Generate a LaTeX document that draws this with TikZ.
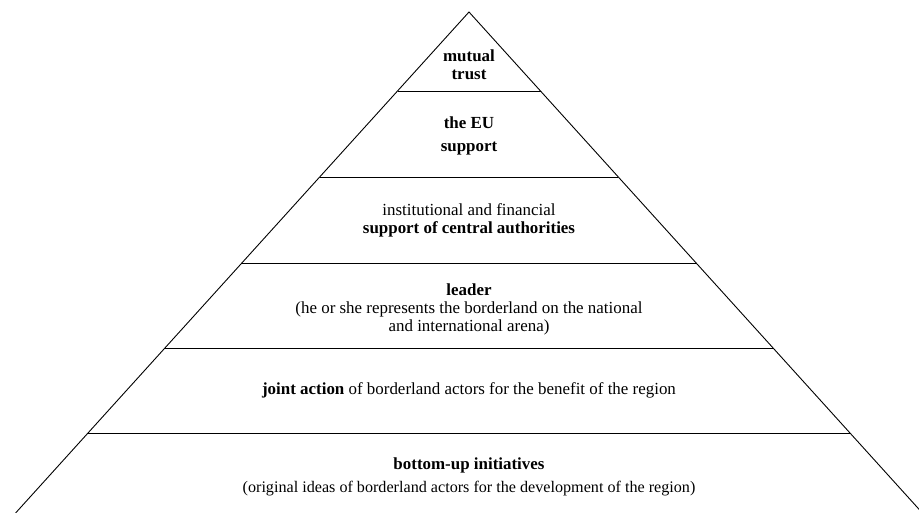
\documentclass[tikz,border=0pt]{standalone}
\usepackage{fontspec}
\setmainfont{Liberation Serif}
\usetikzlibrary{calc}

\tikzset{
  tier/.style={align=center,font=\fontsize{17}{18}\selectfont,inner sep=0pt},
  edge/.style={black,line width=0.9bp},
}

\begin{document}
\begin{tikzpicture}[x=1bp,y=-1bp]
\useasboundingbox (0,0) rectangle (919,513);
%%
\coordinate (apex) at (469,12);
\coordinate (base_l) at (15.6,513);
\coordinate (base_r) at (922.4,513);
\draw [edge] (base_l) -- (apex) -- (base_r);
% level lines
\foreach \y in {91,177,263,348,433}
  \draw [edge] ($(apex)!{(\y-12)/501}!(base_l)$) -- ($(apex)!{(\y-12)/501}!(base_r)$);
%
\node (tier_5) at (469,65) [tier] {\textbf{mutual}\\\textbf{trust}};
  \node (tier_4) at (469,135.5) [tier] {\textbf{the EU}\\[5bp]\textbf{support}};
  \node (tier_3) at (469,220) [tier] {institutional and financial\\\textbf{support of central authorities}};
  \node (tier_2) at (469,309) [tier] {\textbf{leader}\\(he or she represents the borderland on the national\\and international arena)};
  \node (tier_1) at (469,390.5) [tier] {\textbf{joint action} of borderland actors for the benefit of the region};
  \node (tier_0) at (469,476.5) [tier] {\textbf{bottom-up initiatives}\\[5bp]{\fontsize{16.2}{18}\selectfont(original ideas of borderland actors for the development of the region)}};
%
\end{tikzpicture}
\end{document}
